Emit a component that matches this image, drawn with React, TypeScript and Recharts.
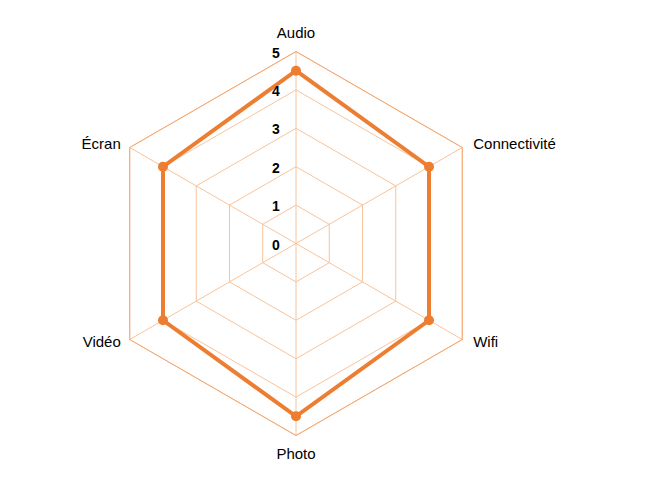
import React from "react";
import {
  RadarChart,
  Radar,
  PolarGrid,
  PolarAngleAxis,
  PolarRadiusAxis,
} from "recharts";

// Critères notés (sens horaire depuis le haut)
const criteres = ["Audio", "Connectivité", "Wifi", "Photo", "Vidéo", "Écran"];
const notes = [4.5, 4, 4, 4.5, 4, 4];
const radiusTicks = [0, 1, 2, 3, 4, 5];

const data = criteres.map((c, i) => ({ critere: c, note: notes[i] }));

const ORANGE = "#ED7D31";
const GRID = "#F8C39A";
const LABEL_FONT = "Helvetica, Arial, 'Liberation Sans', sans-serif";

// Angle-axis labels: recharts gives us the end of the tick line, we nudge by side
function AngleTick(props: any) {
  const { x, y, cx, cy, payload } = props;
  const dx = x - cx;
  const dy = y - cy;
  let anchor: "start" | "middle" | "end" = "middle";
  let tx = x;
  let ty = y;
  if (Math.abs(dx) < 1) {
    // top / bottom
    ty = dy < 0 ? y - 6 : y + 15;
  } else {
    anchor = dx > 0 ? "start" : "end";
    tx = dx > 0 ? x + 4 : x - 2;
    ty = dy < 0 ? y + 5 : y + 3;
  }
  return (
    <text
      x={tx}
      y={ty}
      textAnchor={anchor}
      fill="#000"
      fontSize={15}
      fontFamily={LABEL_FONT}
    >
      {payload.value}
    </text>
  );
}

function RadiusTick(props: any) {
  const { x, y, payload } = props;
  return (
    <text
      x={x - 20}
      y={y + 1}
      textAnchor="middle"
      dominantBaseline="central"
      fill="#000"
      fontSize={14}
      fontWeight="bold"
      fontFamily="'Liberation Sans', Arial, sans-serif"
    >
      {payload.value}
    </text>
  );
}

export default function App() {
  return (
    <div style={{ width: 645, height: 484 }}>
      <RadarChart
        width={629}
        height={476}
        data={data}
        cx={288}
        cy={235.5}
        outerRadius={192}
        margin={{ top: 0, right: 0, bottom: 0, left: 0 }}
      >
        <PolarGrid gridType="polygon" stroke={GRID} strokeWidth={1} />
        <PolarAngleAxis
          dataKey="critere"
          tick={(p: any) => <AngleTick {...p} cx={288} cy={235.5} />}
          tickLine={false}
          axisLine={{ stroke: "#F4A870" }}
        />
        <PolarRadiusAxis
          angle={90}
          domain={[0, 5]}
          ticks={radiusTicks as any}
          tickCount={6}
          axisLine={false}
          tickLine={false}
          tick={<RadiusTick />}
        />
        <Radar
          dataKey="note"
          stroke={ORANGE}
          strokeWidth={4}
          fill="none"
          fillOpacity={0}
          dot={{ r: 5, fill: ORANGE, stroke: ORANGE, strokeWidth: 0, fillOpacity: 1 }}
          isAnimationActive={false}
        />
      </RadarChart>
    </div>
  );
}
